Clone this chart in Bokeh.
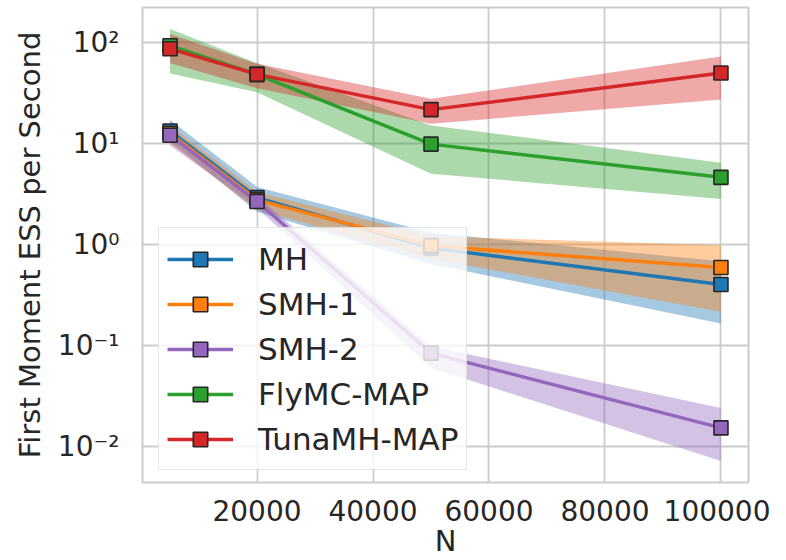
from bokeh.plotting import figure
from bokeh.models import Range1d, FixedTicker, CustomJSTickFormatter, NumeralTickFormatter, Legend
from bokeh.embed import file_html
from bokeh.resources import INLINE

# ---- data ----
N = [5000, 20000, 50000, 100000]

names = ["MH", "SMH-1", "SMH-2", "FlyMC-MAP", "TunaMH-MAP"]
colors = ["#1f77b4", "#ff7f0e", "#9467bd", "#2ca02c", "#d62728"]

mh_mean = [13.2, 2.9, 0.92, 0.40]
mh_lo = [10.5, 2.1, 0.64, 0.165]
mh_hi = [17.0, 3.7, 1.30, 0.68]

smh1_mean = [12.5, 2.75, 0.97, 0.59]
smh1_lo = [10.0, 2.2, 0.72, 0.215]
smh1_hi = [15.0, 3.3, 1.20, 0.98]

smh2_mean = [12.0, 2.65, 0.084, 0.0153]
smh2_lo = [9.5, 2.3, 0.060, 0.0072]
smh2_hi = [14.0, 3.0, 0.098, 0.024]

fly_mean = [92.0, 48.0, 9.8, 4.6]
fly_lo = [49.0, 32.0, 5.0, 2.8]
fly_hi = [135.0, 62.0, 15.0, 6.4]

tuna_mean = [86.0, 48.0, 21.5, 49.5]
tuna_lo = [62.0, 35.0, 15.6, 27.0]
tuna_hi = [120.0, 61.0, 27.6, 72.0]

x_ticks = [20000, 40000, 60000, 80000, 100000]
y_ticks = [0.01, 0.1, 1, 10, 100]

means = [mh_mean, smh1_mean, smh2_mean, fly_mean, tuna_mean]
los = [mh_lo, smh1_lo, smh2_lo, fly_lo, tuna_lo]
his = [mh_hi, smh1_hi, smh2_hi, fly_hi, tuna_hi]

FONT = "DejaVu Sans"
TXT = "#262626"
GRID = "#cccccc"

p = figure(width=770, height=560,
           x_range=Range1d(250, 104750), y_range=Range1d(0.00441, 220),
           y_axis_type="log", output_backend="svg", toolbar_location=None,
           min_border_left=142, min_border_right=22, min_border_top=7,
           min_border_bottom=77)

p.background_fill_color = "white"
p.border_fill_color = "white"
p.outline_line_color = GRID
p.outline_line_width = 2

for g in (p.xgrid, p.ygrid):
    g.grid_line_color = GRID
    g.grid_line_width = 1.8
p.ygrid.minor_grid_line_color = None

p.xaxis.ticker = FixedTicker(ticks=x_ticks)
p.xaxis.formatter = NumeralTickFormatter(format="0")
p.yaxis.ticker = FixedTicker(ticks=y_ticks)
p.yaxis.formatter = CustomJSTickFormatter(code="""
const e = Math.round(Math.log10(tick));
const sup = {'-':'\u207b','0':'\u2070','1':'\u00b9','2':'\u00b2','3':'\u00b3','4':'\u2074','5':'\u2075','6':'\u2076','7':'\u2077','8':'\u2078','9':'\u2079'};
return '10' + String(e).split('').map(c => sup[c]).join('');
""")

for ax in (p.xaxis, p.yaxis):
    ax.axis_line_color = None
    ax.major_tick_line_color = None
    ax.minor_tick_line_color = None
    ax.major_label_text_font = FONT
    ax.major_label_text_font_size = "28px"
    ax.major_label_text_color = TXT
    ax.axis_label_text_font = FONT
    ax.axis_label_text_font_size = "29px"
    ax.axis_label_text_font_style = "normal"
    ax.axis_label_text_color = TXT

p.xaxis.axis_label = "N"
p.yaxis.axis_label = "First Moment ESS per Second"
p.xaxis.major_label_standoff = 11
p.xaxis.axis_label_standoff = 0
p.yaxis.major_label_standoff = 17
p.yaxis.axis_label_standoff = 8

# bands first
for c, lo, hi in zip(colors, los, his):
    p.varea(x=N, y1=lo, y2=hi, fill_color=c, fill_alpha=0.4)

items = []
for name, c, m in zip(names, colors, means):
    r1 = p.line(N, m, line_color=c, line_width=3.5)
    r2 = p.scatter(N, m, marker="square", size=14, fill_color=c,
                   line_color="#262626", line_width=1.6)
    items.append((name, [r1, r2]))

legend = Legend(items=items, location=(16, 12))
legend.label_text_font = FONT
legend.label_text_font_size = "31px"
legend.label_text_color = TXT
legend.background_fill_color = "white"
legend.background_fill_alpha = 0.8
legend.border_line_color = GRID
legend.border_line_width = 1.5
legend.padding = 8
legend.spacing = 0
legend.label_height = 45
legend.glyph_height = 36
legend.glyph_width = 66
legend.label_standoff = 25
legend.margin = 0
p.add_layout(legend, "center")

open("out.html", "w").write(file_html(p, INLINE))
